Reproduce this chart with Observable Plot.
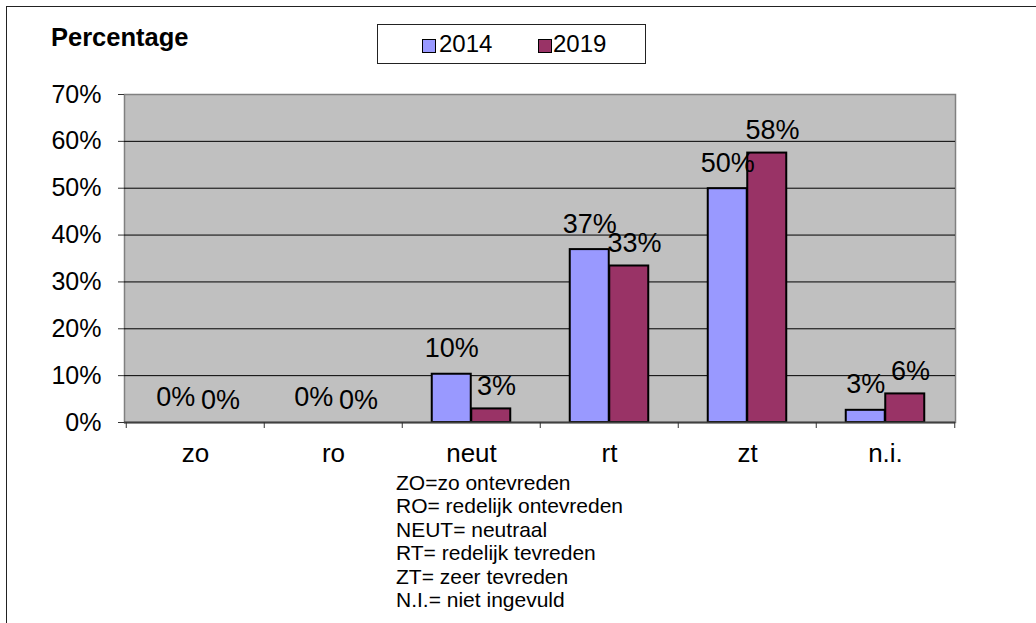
<!DOCTYPE html>
<html>
<head>
<meta charset="utf-8">
<script src="https://cdn.jsdelivr.net/npm/d3@7"></script>
<script src="https://cdn.jsdelivr.net/npm/@observablehq/plot@0.6"></script>
<style>
  html, body { margin: 0; padding: 0; background: #fff; overflow: hidden; }
  #page { position: relative; width: 1036px; height: 623px; overflow: hidden; font-family: Arial, "Liberation Sans", sans-serif; color: #000; }
  #border { position: absolute; left: 6px; top: 6px; width: 2000px; height: 2000px; border: 1px solid #222; }
  #title { position: absolute; left: 51px; top: 22px; font-size: 25.5px; font-weight: bold; line-height: 30px; }
  #legend { position: absolute; left: 377px; top: 24px; width: 269px; height: 40px; border: 1px solid #222; box-sizing: border-box; }
  .li { position: absolute; top: 0; height: 38px; font-size: 24px; line-height: 38px; }
  .sw { position: absolute; top: 14px; width: 12px; height: 12px; border: 1px solid #000; }
  #chart { position: absolute; left: 0; top: 80px; }
  #foot { position: absolute; left: 396px; top: 471px; font-size: 21px; line-height: 23.4px; white-space: pre; }
</style>
</head>
<body>
<div id="page">
  <div id="border"></div>
  <div id="title"></div>
  <div id="legend"></div>
  <div id="chart"></div>
  <div id="foot"></div>
</div>
<script>
const titleText = "Percentage";
const categories = ["zo", "ro", "neut", "rt", "zt", "n.i."];
const years = ["2014", "2019"];
const pct2014 = [0, 0, 10.3, 36.9, 49.9, 2.6];
const pct2019 = [0, 0, 2.9, 33.4, 57.5, 6.1];
const yTicks = [0, 10, 20, 30, 40, 50, 60, 70];
const gridValues = [10, 20, 30, 40, 50, 60];
const footLines = [
  "ZO=zo ontevreden",
  "RO= redelijk ontevreden",
  "NEUT= neutraal",
  "RT= redelijk tevreden",
  "ZT= zeer tevreden",
  "N.I.= niet ingevuld"
];
const colors = {"2014": "#9999FF", "2019": "#993366"};

const d2014 = categories.map((c, i) => ({cat: c, value: pct2014[i]}));
const d2019 = categories.map((c, i) => ({cat: c, value: pct2019[i]}));
const lbl = d => Math.round(d.value) + "%";

document.getElementById("title").textContent = titleText;
const legend = document.getElementById("legend");
const legPos = [[44, 61], [160, 175]];
years.forEach((y, i) => {
  const sw = document.createElement("div");
  sw.className = "sw"; sw.style.left = legPos[i][0] + "px"; sw.style.background = colors[y];
  legend.appendChild(sw);
  const t = document.createElement("div");
  t.className = "li"; t.style.left = legPos[i][1] + "px"; t.textContent = y;
  legend.appendChild(t);
});
document.getElementById("foot").textContent = footLines.join("\n");

const chart = Plot.plot({
  width: 1036,
  height: 400,
  marginLeft: 124,
  marginRight: 81,
  marginTop: 14,
  marginBottom: 58,
  style: {fontSize: "25px", fontFamily: "Arial, 'Liberation Sans', sans-serif", color: "#000", background: "transparent", overflow: "visible"},
  x: {domain: categories, padding: 0, label: null},
  y: {domain: [0, 70], label: null},
  marks: [
    Plot.frame({fill: "#C0C0C0", stroke: "#808080", strokeWidth: 1.5}),
    Plot.ruleY(gridValues, {stroke: "#000", strokeWidth: 1}),
    Plot.barY(d2014, {filter: d => d.value > 0, x: "cat", y: "value", fill: colors["2014"], stroke: "#000", strokeWidth: 2, insetLeft: 29.75, insetRight: 69.25}),
    Plot.barY(d2019, {filter: d => d.value > 0, x: "cat", y: "value", fill: colors["2019"], stroke: "#000", strokeWidth: 2, insetLeft: 69.25, insetRight: 29.75}),
    Plot.ruleY([0], {stroke: "#404040", strokeWidth: 2}),
    Plot.text(d2014, {x: "cat", y: "value", text: lbl, dx: -19.75, dy: -17, lineAnchor: "bottom", fontSize: 27, fill: "#000"}),
    Plot.text(d2019, {x: "cat", y: "value", text: lbl, dx: 25, dy: -14, lineAnchor: "bottom", fontSize: 27, fill: "#000"}),
    Plot.axisY(yTicks, {tickSize: 6, tickPadding: 17, tickFormat: d => d + "%", stroke: "#333", fontSize: 25}),
    Plot.axisX({tickSize: 6, tickFormat: () => "", dx: -69.25, stroke: "#333"}),
    Plot.axisX([categories[categories.length - 1]], {tickSize: 6, tickFormat: () => "", dx: 69.25, stroke: "#333"}),
    Plot.axisX({tickSize: 0, tickPadding: 21, fontSize: 26})
  ]
});
document.getElementById("chart").appendChild(chart);
</script>
</body>
</html>
